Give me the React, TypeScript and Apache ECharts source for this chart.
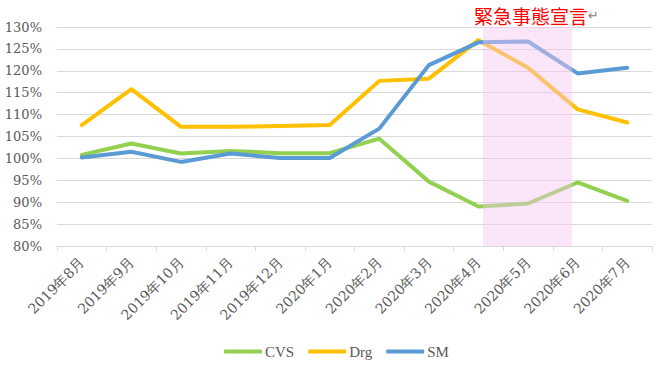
import React, { useEffect, useRef } from "react";
import * as echarts from "echarts";

const categories = [
  "2019年8月", "2019年9月", "2019年10月", "2019年11月", "2019年12月", "2020年1月",
  "2020年2月", "2020年3月", "2020年4月", "2020年5月", "2020年6月", "2020年7月",
];
const cvs = [100.8, 103.4, 101.1, 101.7, 101.2, 101.2, 104.5, 94.7, 89.0, 89.7, 94.5, 90.3];
const drg = [107.6, 115.8, 107.2, 107.2, 107.4, 107.6, 117.7, 118.2, 127.0, 120.7, 111.2, 108.2];
const sm = [100.2, 101.5, 99.2, 101.1, 100.1, 100.1, 106.8, 121.3, 126.5, 126.7, 119.4, 120.7];
const seriesNames = ["CVS", "Drg", "SM"];
const seriesColors = ["#92D050", "#FFC000", "#5B9BD5"];
const bandRange = [8.09, 9.89];
const bandLabel = "緊急事態宣言";

export default function App() {
  const ref = useRef<HTMLDivElement>(null);
  useEffect(() => {
    if (!ref.current) return;
    const chart = echarts.init(ref.current, null, { renderer: "svg" });
    const font = "DejaVu Serif";
    const mk = (i: number, data: number[]) => ({
      name: seriesNames[i],
      type: "line",
      data,
      symbol: "none",
      z: 2,
      lineStyle: { width: 4, color: seriesColors[i], cap: "round", join: "round" },
      itemStyle: { color: seriesColors[i] },
    });
    chart.setOption({
      animation: false,
      title: {
        text: "{r|" + bandLabel + "}{g|↵}",
        left: 474,
        top: 6,
        padding: 0,
        textStyle: {
          fontWeight: "normal",
          rich: {
            r: { color: "#FF0000", fontSize: 19, fontWeight: "normal", fontFamily: "Noto Sans CJK JP" },
            g: { color: "#808080", fontSize: 13, fontWeight: "normal", fontFamily: "DejaVu Sans" },
          },
        },
      },
      grid: { left: 57, right: 7, top: 27, bottom: 130, containLabel: false },
      legend: {
        data: seriesNames.map((n) => ({ name: n, icon: "roundRect" })),
        bottom: 12,
        left: 219,
        itemWidth: 38,
        itemHeight: 4,
        itemGap: 14,
        textStyle: { fontFamily: "Liberation Serif", fontSize: 15, color: "#595959", padding: [0, 0, 0, -2] },
      },
      xAxis: [
        {
          type: "category",
          data: categories,
          boundaryGap: true,
          axisLine: { lineStyle: { color: "#D9D9D9", width: 1 } },
          axisTick: { show: true, length: 5, lineStyle: { color: "#D9D9D9" } },
          axisLabel: {
            rotate: 45,
            interval: 0,
            margin: 14,
            fontFamily: font,
            fontSize: 14,
            color: "#595959",
          },
        },
        { type: "value", min: -0.5, max: 11.5, show: false },
      ],
      yAxis: {
        type: "value",
        min: 80,
        max: 130,
        interval: 5,
        axisLine: { show: false },
        axisTick: { show: false },
        splitLine: { lineStyle: { color: "#D9D9D9", width: 1 } },
        axisLabel: {
          formatter: "{value}%",
          margin: 15,
          fontFamily: font,
          fontSize: 13,
          color: "#595959",
        },
      },
      series: [
        mk(0, cvs),
        mk(1, drg),
        mk(2, sm),
        {
          type: "custom",
          xAxisIndex: 1,
          z: 10,
          silent: true,
          data: [bandRange],
          renderItem: (params: any, api: any) => {
            const p1 = api.coord([api.value(0), 130]);
            const p2 = api.coord([api.value(1), 80]);
            return {
              type: "rect",
              shape: { x: p1[0], y: p1[1], width: p2[0] - p1[0], height: p2[1] - p1[1] },
              style: { fill: "rgba(245,200,240,0.45)" },
            };
          },
        },
      ],
    });
    return () => chart.dispose();
  }, []);
  return <div ref={ref} style={{ width: 659, height: 376, position: "absolute", left: 0, top: 0 }} />;
}
